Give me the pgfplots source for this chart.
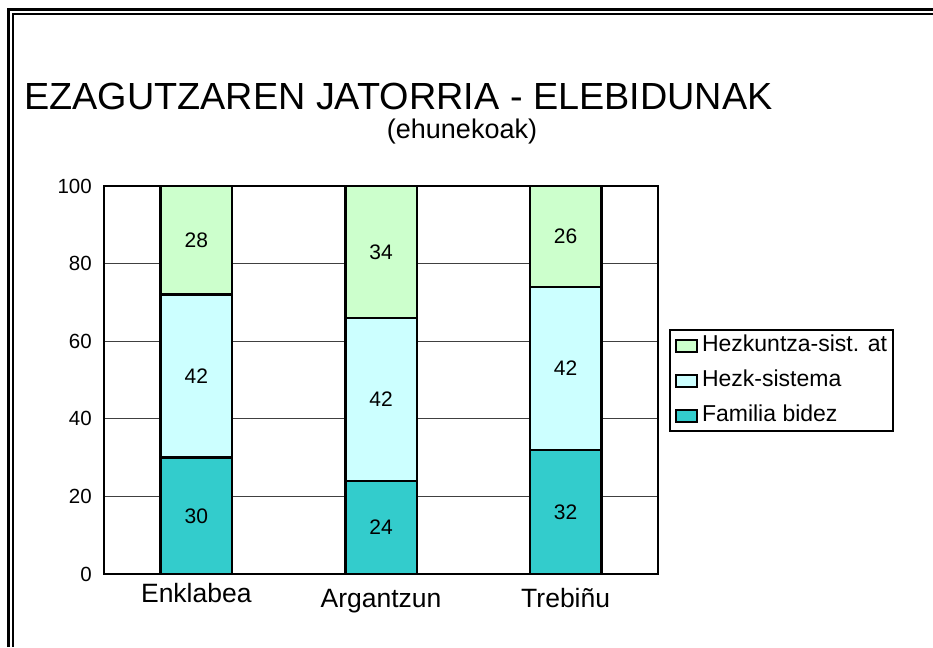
\documentclass[border=0pt]{standalone}
\usepackage{fontspec}
\setmainfont{Liberation Sans}
\usepackage{pgfplots}
\pgfplotsset{compat=1.18}
\definecolor{famc}{HTML}{33CCCC}
\definecolor{hezc}{HTML}{CCFFFF}
\definecolor{atc}{HTML}{CCFFCC}
\newcommand\fs[1]{\fontsize{#1}{#1}\selectfont}

\begin{document}
\begin{tikzpicture}[x=1pt,y=1pt]
\useasboundingbox (0,0) rectangle (933,647);
\fill[white] (0,0) rectangle (933,647);
\draw[line width=2.2pt] (8.5,0) -- (8.5,637.5) -- (933,637.5);
\draw[line width=1.6pt] (13,0) -- (13,633) -- (933,633);

\node[anchor=base west, inner sep=0pt, font=\fs{37.8}] at (24,537) {EZAGUTZAREN JATORRIA - ELEBIDUNAK};
\node[anchor=base, inner sep=0pt, font=\fs{27}] at (462,508) {(ehunekoak)};

\begin{axis}[
 at={(104pt,73pt)}, anchor=south west,
 scale only axis, width=554pt, height=388pt,
 ybar stacked, bar width=71.5pt,
 xmin=-0.5, xmax=2.5, ymin=0, ymax=100,
 xtick={0,1,2}, xticklabels={\raisebox{5pt}{Enklabea},Argantzun,Trebiñu},
 ytick={0,20,...,100},
 major tick length=0pt,
 axis line style={line width=2pt},
 ymajorgrids, grid style={black!75, line width=1pt},
 /pgf/number format/assume math mode=true,
 yticklabel style={font=\fs{20.5}, anchor=east, inner sep=0pt, xshift=-12pt},
 xticklabel style={font=\fs{26.5}, anchor=base, inner sep=0pt, yshift=-34pt},
 legend style={at={(1.0199,0.6314)}, anchor=north west, draw=black, line width=2pt, font=\fs{23}, inner xsep=5pt, inner ysep=3pt, row sep=10pt, column sep=3pt, nodes={inner xsep=1pt, inner ysep=2pt, text height=16.5pt, text depth=4.5pt}, cells={anchor=west}},
 reverse legend,
 legend image code/.code={\draw[#1, line width=2pt] (0pt,-6pt) rectangle (21pt,6pt);},
]
\addplot[fill=famc, draw=black, line width=2.5pt] coordinates {(0,30) (1,24) (2,32)};
\addlegendentry{Familia bidez}
\addplot[fill=hezc, draw=black, line width=2.5pt] coordinates {(0,42) (1,42) (2,42)};
\addlegendentry{Hezk-sistema}
\addplot[fill=atc, draw=black, line width=2.5pt] coordinates {(0,28) (1,34) (2,26)};
\addlegendentry{Hezkuntza-sist. at}
\end{axis}

\begin{axis}[
 at={(104pt,73pt)}, anchor=south west,
 scale only axis, width=554pt, height=388pt,
 xmin=-0.5, xmax=2.5, ymin=0, ymax=100,
 hide axis,
]
\addplot[draw=none, mark=none, nodes near coords, point meta=explicit symbolic,
  every node near coord/.style={anchor=center, font=\fs{21}, text=black, inner sep=0pt}]
  table[meta=v] {
x y v
0 15 30
0 51 42
0 86 28
1 12 24
1 45 42
1 83 34
2 16 32
2 53 42
2 87 26
};
\end{axis}
\end{tikzpicture}
\end{document}
